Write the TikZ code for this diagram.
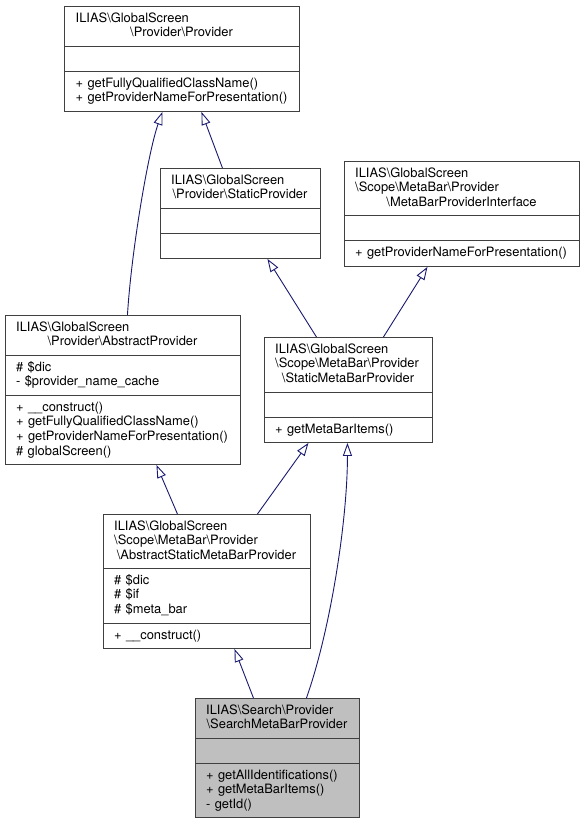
\documentclass[tikz,border=0pt]{standalone}
\usepackage{fontspec}
\setmainfont{TeX Gyre Heros}
\usepackage{tikz}
\usetikzlibrary{arrows.meta}
\definecolor{edgeblue}{RGB}{25,25,112}
\definecolor{boxgray}{RGB}{64,64,64}
\definecolor{curfill}{RGB}{191,191,191}
\newcommand{\bksl}{\textbackslash}

\begin{document}
\begin{tikzpicture}[x=1pt,y=-1pt,
		cls/.style={draw=boxgray,line width=0.9pt,fill=white,anchor=north west,inner sep=0pt},
		sep/.style={draw=boxgray,line width=0.9pt},
		txt/.style={inner sep=0pt,font=\fontsize{12.9}{14.6}\selectfont},
		lft/.style={txt,anchor=base west,text width=230pt,align=left},
		ctr/.style={txt,anchor=base},
		inherit/.style={draw=edgeblue,line width=0.9pt,-{Triangle[open,length=13pt,width=9pt]}}
		]
		\useasboundingbox (0,0) rectangle (584,824);
		%Draw classes
		\path (64,6) node[cls,minimum width=235pt,minimum height=105pt] (provider) {}
		(160,168) node[cls,minimum width=160pt,minimum height=90pt] (static) {}
		(344,161) node[cls,minimum width=235pt,minimum height=105pt] (iface) {}
		(5,315) node[cls,minimum width=235pt,minimum height=149pt] (abstract) {}
		(264,337) node[cls,minimum width=168pt,minimum height=105pt] (smbp) {}
		(103,514) node[cls,minimum width=207pt,minimum height=134pt] (asmbp) {}
		(195,698) node[cls,fill=curfill,minimum width=164pt,minimum height=119pt] (search) {};
		
		%Compartments
		\draw[sep] ([yshift=-40pt]provider.north west) -- ([yshift=-40pt]provider.north east);
		\draw[sep] ([yshift=-65pt]provider.north west) -- ([yshift=-65pt]provider.north east);
		\draw[sep] ([yshift=-40pt]static.north west) -- ([yshift=-40pt]static.north east);
		\draw[sep] ([yshift=-65pt]static.north west) -- ([yshift=-65pt]static.north east);
		\draw[sep] ([yshift=-54pt]iface.north west) -- ([yshift=-54pt]iface.north east);
		\draw[sep] ([yshift=-79pt]iface.north west) -- ([yshift=-79pt]iface.north east);
		\draw[sep] ([yshift=-40pt]abstract.north west) -- ([yshift=-40pt]abstract.north east);
		\draw[sep] ([yshift=-80pt]abstract.north west) -- ([yshift=-80pt]abstract.north east);
		\draw[sep] ([yshift=-55pt]smbp.north west) -- ([yshift=-55pt]smbp.north east);
		\draw[sep] ([yshift=-80pt]smbp.north west) -- ([yshift=-80pt]smbp.north east);
		\draw[sep] ([yshift=-54pt]asmbp.north west) -- ([yshift=-54pt]asmbp.north east);
		\draw[sep] ([yshift=-109pt]asmbp.north west) -- ([yshift=-109pt]asmbp.north east);
		\draw[sep] ([yshift=-40pt]search.north west) -- ([yshift=-40pt]search.north east);
		\draw[sep] ([yshift=-65pt]search.north west) -- ([yshift=-65pt]search.north east);
		
		%Texts
		\path (75.5,22.3) node[lft] (provider-name) {ILIAS\bksl GlobalScreen}
		+(0,65) node[lft] (provider-ops) {+ getFullyQualifiedClassName()\\+ getProviderNameForPresentation()}
		(181.5,36.9) node[ctr] (provider-last) {\bksl Provider\bksl Provider};
		\path (171,184.3) node[lft] (static-name) {ILIAS\bksl GlobalScreen}
		(240,198.9) node[ctr] (static-last) {\bksl Provider\bksl StaticProvider};
		\path (355,177.3) node[lft] (iface-name) {ILIAS\bksl GlobalScreen\\\bksl Scope\bksl MetaBar\bksl Provider}
		+(0,79) node[lft] (iface-ops) {+ getProviderNameForPresentation()}
		(461.5,206.5) node[ctr] (iface-last) {\bksl MetaBarProviderInterface};
		\path (16,331.3) node[lft] (abstract-name) {ILIAS\bksl GlobalScreen}
		+(0,40) node[lft] (abstract-attr) {\# \$dic\\- \$provider\_name\_cache}
		+(0,80) node[lft] (abstract-ops) {+ \_\_construct()\\+ getFullyQualifiedClassName()\\+ getProviderNameForPresentation()\\\# globalScreen()}
		(122.5,345.9) node[ctr] (abstract-last) {\bksl Provider\bksl AbstractProvider};
		\path (275,353.3) node[lft] (smbp-name) {ILIAS\bksl GlobalScreen\\\bksl Scope\bksl MetaBar\bksl Provider}
		+(0,80) node[lft] (smbp-ops) {+ getMetaBarItems()}
		(348,382.5) node[ctr] (smbp-last) {\bksl StaticMetaBarProvider};
		\path (114,530.3) node[lft] (asmbp-name) {ILIAS\bksl GlobalScreen\\\bksl Scope\bksl MetaBar\bksl Provider}
		+(0,54) node[lft] (asmbp-attr) {\# \$dic\\\# \$if\\\# \$meta\_bar}
		+(0,109) node[lft] (asmbp-ops) {+ \_\_construct()}
		(206.5,559.5) node[ctr] (asmbp-last) {\bksl AbstractStaticMetaBarProvider};
		\path (206,714.3) node[lft] (search-name) {ILIAS\bksl Search\bksl Provider}
		+(0,65) node[lft] (search-ops) {+ getAllIdentifications()\\+ getMetaBarItems()\\- getId()}
		(277,728.9) node[ctr] (search-last) {\bksl SearchMetaBarProvider};
		
		%Draw inheritance
		\draw[inherit] ([xshift=4.5pt]abstract.north) .. controls +(4,-65) and +(-14,39) .. ([xshift=-19.5pt]provider.south);
		\draw[inherit] ([xshift=-18pt]static.north) -- ([xshift=19.5pt]provider.south);
		\draw[inherit] ([xshift=-32pt]smbp.north) -- ([xshift=27pt]static.south);
		\draw[inherit] ([xshift=35pt]smbp.north) -- ([xshift=-34.5pt]iface.south);
		\draw[inherit] ([xshift=-29.5pt]asmbp.north) -- ([xshift=33.5pt]abstract.south);
		\draw[inherit] ([xshift=50.5pt]asmbp.north) -- ([xshift=-40pt]smbp.south);
		\draw[inherit] ([xshift=-24pt]search.north) -- ([xshift=27.5pt]asmbp.south);
		\draw[inherit] ([xshift=29pt]search.north) .. controls +(24,-68) and +(0,78) .. ([xshift=-1pt]smbp.south);
	\end{tikzpicture}
\end{document}
